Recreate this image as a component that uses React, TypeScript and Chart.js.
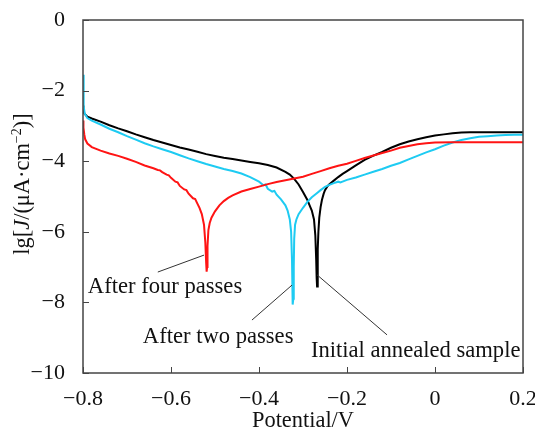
import React, { useEffect, useRef } from 'react';
import { Chart, registerables } from 'chart.js';

Chart.register(...registerables);

const FONT = '"Liberation Serif", "Times New Roman", Times, serif';

// ---- Data (potential in V, lg J) ----
const initialV = [
  -0.8, -0.799, -0.797, -0.79, -0.78, -0.76, -0.74, -0.72, -0.7, -0.68, -0.66, -0.64, -0.62, -0.6,
  -0.58, -0.56, -0.54, -0.52, -0.5, -0.48, -0.46, -0.44, -0.42, -0.4, -0.38, -0.36, -0.34, -0.33,
  -0.32, -0.31, -0.3, -0.29, -0.285, -0.28, -0.275, -0.272, -0.27, -0.269, -0.268, -0.267, -0.266,
  -0.265, -0.263, -0.26, -0.257, -0.253, -0.25, -0.245, -0.24, -0.23, -0.22, -0.21, -0.2, -0.18,
  -0.16, -0.14, -0.12, -0.1, -0.08, -0.06, -0.04, -0.02, 0.0, 0.02, 0.04, 0.06, 0.08, 0.1, 0.12,
  0.14, 0.16, 0.18, 0.2,
];
const initialLg = [
  -2.42, -2.55, -2.65, -2.74, -2.79, -2.88, -2.98, -3.07, -3.15, -3.24, -3.32, -3.4, -3.47, -3.54,
  -3.61, -3.67, -3.73, -3.8, -3.85, -3.9, -3.94, -3.98, -4.02, -4.06, -4.11, -4.18, -4.3, -4.38,
  -4.5, -4.66, -4.87, -5.1, -5.25, -5.4, -5.65, -6.1, -6.8, -7.3, -7.55, -7.2, -6.5,
  -6.0, -5.6, -5.3, -5.1, -4.92, -4.82, -4.72, -4.65, -4.55, -4.45, -4.36, -4.28, -4.12,
  -3.96, -3.84, -3.74, -3.62, -3.52, -3.44, -3.38, -3.32, -3.27, -3.24, -3.21, -3.19, -3.18, -3.18, -3.18,
  -3.18, -3.18, -3.18, -3.18,
];

const twoV = [
  -0.8, -0.799, -0.798, -0.796, -0.79, -0.78, -0.76, -0.74, -0.72, -0.7, -0.68, -0.66, -0.64, -0.62,
  -0.6, -0.58, -0.56, -0.54, -0.52, -0.5, -0.48, -0.46, -0.44, -0.42, -0.4, -0.39, -0.385, -0.38,
  -0.37, -0.365, -0.36, -0.35,
  -0.34, -0.335, -0.33, -0.327, -0.325, -0.324, -0.323, -0.322, -0.321, -0.32, -0.318, -0.315,
  -0.31, -0.3, -0.29, -0.28, -0.27, -0.26, -0.25, -0.24, -0.23, -0.22, -0.215, -0.2, -0.18, -0.16,
  -0.14, -0.12, -0.1, -0.08, -0.06, -0.04, -0.02, 0.0, 0.02, 0.04, 0.06, 0.08, 0.1, 0.12, 0.14,
  0.16, 0.18, 0.2,
];
const twoLg = [
  -1.55, -2.0, -2.45, -2.65, -2.78, -2.85, -2.96, -3.08, -3.18, -3.29, -3.39, -3.49, -3.58, -3.66,
  -3.74, -3.83, -3.92, -4.0, -4.08, -4.15, -4.22, -4.28, -4.35, -4.45, -4.58, -4.68, -4.66, -4.78,
  -4.86, -4.84, -4.95, -5.08,
  -5.25, -5.4, -5.65, -6.0, -6.8, -7.6, -8.06, -7.9, -7.0, -6.2, -5.8, -5.65,
  -5.5, -5.32, -5.15, -5.02, -4.92, -4.82, -4.73, -4.67, -4.62, -4.58, -4.6, -4.53, -4.46, -4.38,
  -4.3, -4.22, -4.13, -4.05, -3.95, -3.85, -3.75, -3.66, -3.56, -3.47, -3.4, -3.35, -3.31, -3.29, -3.27,
  -3.26, -3.25, -3.25,
];

const fourV = [
  -0.8, -0.799, -0.797, -0.795, -0.79, -0.78, -0.76, -0.74, -0.72, -0.7, -0.68, -0.66, -0.64, -0.63,
  -0.625, -0.62, -0.61, -0.605, -0.6, -0.59, -0.585, -0.58, -0.57, -0.565, -0.56, -0.55, -0.545,
  -0.54, -0.535, -0.53, -0.525, -0.522, -0.52, -0.519, -0.518, -0.517,
  -0.515, -0.512, -0.508, -0.5, -0.49, -0.48, -0.47, -0.46, -0.44, -0.42, -0.4, -0.38, -0.36, -0.34,
  -0.32, -0.3, -0.28, -0.26, -0.24, -0.22, -0.2, -0.18, -0.16, -0.14, -0.12, -0.1, -0.08, -0.06,
  -0.04, -0.02, 0.0, 0.04, 0.08, 0.12, 0.16, 0.2,
];
const fourLg = [
  -2.85, -3.05, -3.25, -3.38, -3.5, -3.6, -3.7, -3.78, -3.85, -3.93, -4.02, -4.12, -4.2, -4.25,
  -4.26, -4.31, -4.38, -4.4, -4.47, -4.58, -4.6, -4.7, -4.8, -4.82, -4.92, -5.05, -5.07,
  -5.2, -5.33, -5.5, -5.8, -6.3, -6.9, -7.13, -7.0, -6.4,
  -5.95, -5.75, -5.6, -5.42, -5.25, -5.13, -5.04, -4.97, -4.86, -4.79, -4.72, -4.65, -4.59, -4.54,
  -4.49, -4.44, -4.36, -4.28, -4.2, -4.13, -4.07, -3.99, -3.91, -3.84, -3.77, -3.7, -3.62, -3.57,
  -3.52, -3.49, -3.47, -3.46, -3.46, -3.46, -3.46, -3.46,
];

const seriesNames = ['Initial annealed sample', 'After two passes', 'After four passes'];
const seriesColors = ['#000000', '#1ECBF2', '#FF1414'];

const xTicks = [-0.8, -0.6, -0.4, -0.2, 0, 0.2];
const yTicks = [0, -2, -4, -6, -8, -10];

// annotation labels (data coordinates)
const labelTexts = ['After four passes', 'After two passes', 'Initial annealed sample'];
const labelAt = [[-0.789, -7.73], [-0.664, -9.15], [-0.282, -9.55]];
const leaderFrom = [[-0.63, -7.14], [-0.416, -8.5], [-0.109, -8.92]];
const leaderTo = [[-0.525, -6.66], [-0.325, -7.51], [-0.268, -7.22]];

const fmt = (v: number, digits: number) => {
  const r = Math.round(v * 10) / 10;
  if (r === 0) return '0';
  return (r < 0 ? '\u2212' : '') + Math.abs(r).toFixed(digits);
};

const decorPlugin = {
  id: 'decor',
  afterDraw(chart: any) {
    const { ctx, chartArea: a, scales } = chart;
    const xs = scales.x;
    const ys = scales.y;
    ctx.save();
    // frame
    ctx.strokeStyle = '#444';
    ctx.lineWidth = 1.5;
    ctx.strokeRect(a.left, a.top, a.right - a.left, a.bottom - a.top);
    // inside ticks
    ctx.lineWidth = 1;
    ctx.beginPath();
    xTicks.forEach((v) => {
      const px = Math.round(xs.getPixelForValue(v)) + 0.5;
      ctx.moveTo(px, a.bottom);
      ctx.lineTo(px, a.bottom - 6);
    });
    yTicks.forEach((v) => {
      const py = Math.round(ys.getPixelForValue(v)) + 0.5;
      ctx.moveTo(a.left, py);
      ctx.lineTo(a.left + 6, py);
    });
    ctx.stroke();

    // leader lines
    ctx.strokeStyle = '#333';
    ctx.lineWidth = 1;
    ctx.beginPath();
    leaderFrom.forEach((f, i) => {
      const t = leaderTo[i];
      ctx.moveTo(xs.getPixelForValue(f[0]), ys.getPixelForValue(f[1]));
      ctx.lineTo(xs.getPixelForValue(t[0]), ys.getPixelForValue(t[1]));
    });
    ctx.stroke();

    // annotation texts
    ctx.fillStyle = '#111';
    ctx.font = `22.6px ${FONT}`;
    ctx.textAlign = 'left';
    ctx.textBaseline = 'alphabetic';
    labelTexts.forEach((t, i) => {
      ctx.fillText(t, xs.getPixelForValue(labelAt[i][0]), ys.getPixelForValue(labelAt[i][1]));
    });

    // x title
    ctx.textAlign = 'center';
    ctx.font = `22.4px ${FONT}`;
    ctx.fillText('Potential/V', (a.left + a.right) / 2, 427);

    // y title (rotated, with italic J and superscript)
    const parts: [string, string, number][] = [
      ['lg[', `22.4px ${FONT}`, 0],
      ['J', `italic 22.4px ${FONT}`, 0],
      ['/(\u03bcA\u00b7cm', `22.4px ${FONT}`, 0],
      ['\u22122', `14px ${FONT}`, -8],
      [')]', `22.4px ${FONT}`, 0],
    ];
    let total = 0;
    parts.forEach((p) => {
      ctx.font = p[1];
      total += ctx.measureText(p[0]).width;
    });
    ctx.translate(29, 184);
    ctx.rotate(-Math.PI / 2);
    ctx.textAlign = 'left';
    let cx = -total / 2;
    parts.forEach((p) => {
      ctx.font = p[1];
      ctx.fillText(p[0], cx, p[2]);
      cx += ctx.measureText(p[0]).width;
    });
    ctx.restore();
  },
};

export default function App() {
  const ref = useRef<HTMLCanvasElement | null>(null);
  useEffect(() => {
    if (!ref.current) return;
    const mk = (xv: number[], yv: number[]) => xv.map((x, i) => ({ x, y: yv[i] }));
    const chart = new Chart(ref.current, {
      type: 'scatter',
      data: {
        datasets: [
          { label: seriesNames[2], data: mk(fourV, fourLg), borderColor: seriesColors[2] },
          { label: seriesNames[1], data: mk(twoV, twoLg), borderColor: seriesColors[1] },
          { label: seriesNames[0], data: mk(initialV, initialLg), borderColor: seriesColors[0] },
        ].map((d) => ({
          ...d,
          showLine: true,
          pointRadius: 0,
          borderWidth: 2,
          tension: 0,
          fill: false,
        })),
      },
      options: {
        animation: false,
        responsive: true,
        maintainAspectRatio: false,
        layout: { padding: { left: 0, right: 12, top: 20, bottom: 0 } },
        plugins: { legend: { display: false }, tooltip: { enabled: false } },
        scales: {
          x: {
            type: 'linear',
            min: -0.8,
            max: 0.2,
            afterBuildTicks: (s: any) => {
              s.ticks = xTicks.map((v) => ({ value: v }));
            },
            afterFit: (s: any) => {
              s.height = 57;
              s.paddingLeft = 0;
              s.paddingRight = 0;
            },
            ticks: {
              autoSkip: false,
              maxRotation: 0,
              padding: 5,
              color: '#111',
              font: { family: FONT, size: 22 },
              callback: (v: any) => fmt(Number(v), 1),
            },
            grid: { display: false },
            border: { display: false },
          },
          y: {
            type: 'linear',
            min: -10,
            max: 0,
            afterBuildTicks: (s: any) => {
              s.ticks = yTicks.map((v) => ({ value: v }));
            },
            afterFit: (s: any) => {
              s.width = 83;
              s.paddingTop = 0;
              s.paddingBottom = 0;
            },
            ticks: {
              autoSkip: false,
              padding: 10,
              color: '#111',
              font: { family: FONT, size: 22 },
              callback: (v: any) => (Number(v) === 0 ? '0' : '\u2212' + Math.abs(Number(v))),
            },
            grid: { display: false },
            border: { display: false },
          },
        },
      },
      plugins: [decorPlugin],
    });
    return () => chart.destroy();
  }, []);
  return (
    <div style={{ position: 'absolute', left: 0, top: 0, width: 535, height: 430, background: '#fff' }}>
      <canvas ref={ref} />
    </div>
  );
}
